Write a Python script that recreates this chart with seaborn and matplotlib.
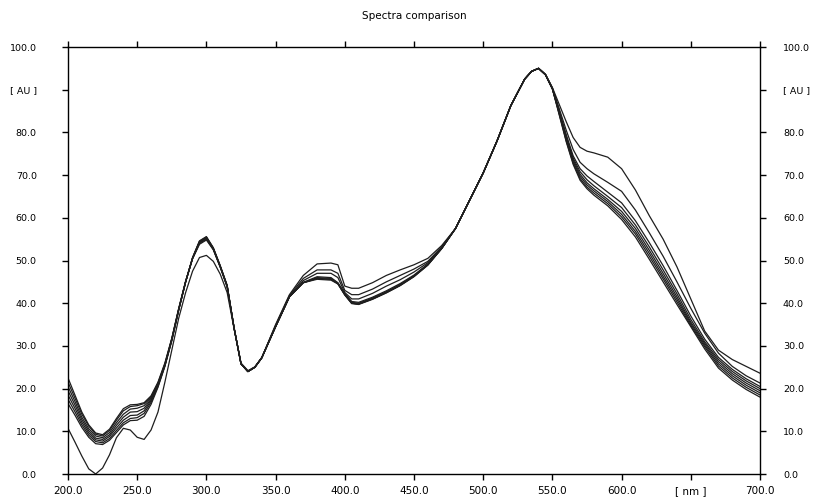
import matplotlib
matplotlib.use("Agg")
import matplotlib.pyplot as plt
import seaborn as sns
import pandas as pd

# ---------------- data ----------------
wavelength = [200, 205, 210, 215, 220, 225, 230, 235, 240, 245, 250, 255, 260, 265,
              270, 275, 280, 285, 290, 295, 300, 305, 310, 315, 320, 325, 330, 335, 340,
              350, 360, 370, 380, 390, 395, 400, 405, 410, 420, 430, 440, 450, 460, 470,
              480, 490, 500, 510, 520, 530, 535, 540, 545, 550,
              555, 560, 565, 570, 575, 580, 590, 600, 610, 620, 630, 640, 650, 660, 670, 680, 690, 700]

spec1 = [10.7, 7.5, 4.2, 1.2, 0.0, 1.4, 4.5, 8.5, 10.7, 10.3, 8.6, 8.1, 10.3, 14.5,
         21.5, 29.0, 36.5, 42.5, 47.5, 50.7, 51.2, 49.8, 46.8, 42.5, 34.0, 26.0, 24.2, 25.1, 27.3,
         34.5, 41.5, 44.8, 45.8, 45.6, 44.6, 42.0, 40.0, 39.8, 41.0, 42.5, 44.2, 46.3, 49.0, 52.8,
         57.5, 64.0, 70.5, 78.0, 86.3, 92.5, 94.3, 95.0, 93.5, 90.2,
         84.8, 79.0, 74.0, 70.8, 68.9, 67.5, 65.0, 62.4, 58.3, 53.2, 47.8, 42.2, 36.2, 31.0, 26.8, 24.0, 21.8, 20.0]

spec2 = [22.5, 18.5, 14.5, 11.5, 9.6, 9.2, 10.5, 13.0, 15.3, 16.2, 16.3, 16.7, 18.3, 21.5,
         26.0, 31.8, 38.8, 45.2, 50.4, 53.8, 54.8, 52.5, 48.4, 43.8, 34.2, 25.8, 24.0, 25.0, 27.2,
         35.0, 42.0, 46.5, 49.2, 49.4, 49.0, 44.0, 43.5, 43.5, 44.8, 46.5, 47.8, 49.0, 50.5, 53.5,
         57.5, 64.0, 70.5, 78.0, 86.3, 92.5, 94.3, 95.0, 93.6, 90.5,
         86.5, 82.5, 78.8, 76.5, 75.6, 75.2, 74.2, 71.5, 66.5, 60.5, 55.0, 48.5, 41.0, 33.5, 29.0, 26.8, 25.2, 23.6]

spec3 = [21.5, 17.8, 14.0, 11.2, 9.3, 8.9, 10.2, 12.6, 14.8, 15.8, 16.0, 16.5, 18.1, 21.3,
         25.8, 31.7, 38.7, 45.1, 50.5, 54.0, 55.0, 52.6, 48.5, 43.9, 34.2, 25.8, 24.0, 25.0, 27.2,
         34.8, 41.8, 45.8, 47.8, 47.8, 47.0, 43.0, 42.0, 42.0, 43.3, 45.0, 46.5, 48.0, 49.8, 53.2,
         57.5, 64.0, 70.5, 78.0, 86.3, 92.5, 94.3, 95.0, 93.6, 90.4,
         85.5, 80.5, 76.0, 73.0, 71.5, 70.3, 68.3, 66.2, 61.8, 56.5, 51.0, 45.0, 38.8, 33.0, 28.3, 25.2, 23.0, 21.3]

spec4 = [20.5, 17.0, 13.3, 10.6, 8.9, 8.5, 9.7, 12.0, 14.0, 15.2, 15.4, 16.0, 17.8, 21.1,
         25.6, 31.6, 38.6, 45.0, 50.5, 54.2, 55.2, 52.7, 48.6, 44.0, 34.2, 25.8, 24.0, 25.0, 27.2,
         34.6, 41.6, 45.3, 47.0, 47.0, 46.0, 42.5, 41.0, 41.0, 42.3, 44.0, 45.5, 47.3, 49.5, 53.0,
         57.5, 64.0, 70.5, 78.0, 86.3, 92.5, 94.3, 95.0, 93.5, 90.3,
         85.0, 79.5, 74.5, 71.5, 69.8, 68.5, 66.0, 63.5, 59.3, 54.2, 48.8, 43.0, 37.0, 31.6, 27.3, 24.5, 22.3, 20.5]

spec5 = [19.5, 16.2, 12.7, 10.1, 8.4, 8.1, 9.2, 11.4, 13.3, 14.5, 14.6, 15.4, 17.5, 20.9,
         25.5, 31.5, 38.5, 45.0, 50.5, 54.3, 55.3, 52.8, 48.6, 44.0, 34.2, 25.8, 24.0, 25.0, 27.2,
         34.5, 41.5, 44.9, 46.2, 46.0, 44.8, 42.3, 40.4, 40.2, 41.4, 42.9, 44.6, 46.6, 49.2, 52.9,
         57.5, 64.0, 70.5, 78.0, 86.3, 92.5, 94.3, 95.0, 93.5, 90.2,
         84.6, 78.6, 73.6, 70.2, 68.2, 66.8, 64.3, 61.5, 57.5, 52.4, 47.0, 41.5, 35.6, 30.6, 26.3, 23.5, 21.3, 19.5]

spec6 = [18.5, 15.4, 12.1, 9.6, 8.0, 7.7, 8.8, 10.8, 12.6, 13.7, 13.8, 14.8, 17.2, 20.7,
         25.4, 31.4, 38.5, 45.0, 50.6, 54.4, 55.4, 52.8, 48.6, 44.0, 34.2, 25.8, 24.0, 25.0, 27.2,
         34.5, 41.5, 44.8, 46.0, 45.8, 44.7, 42.1, 40.2, 40.0, 41.2, 42.7, 44.4, 46.4, 49.1, 52.8,
         57.5, 64.0, 70.5, 78.0, 86.3, 92.5, 94.3, 95.0, 93.5, 90.2,
         84.4, 78.3, 73.2, 69.7, 67.7, 66.3, 63.8, 60.8, 56.8, 51.7, 46.3, 40.9, 35.2, 30.2, 25.8, 23.0, 20.8, 19.0]

spec7 = [17.5, 14.6, 11.5, 9.1, 7.6, 7.3, 8.3, 10.2, 12.0, 13.0, 13.2, 14.2, 16.8, 20.5,
         25.3, 31.3, 38.4, 45.0, 50.6, 54.5, 55.5, 52.9, 48.7, 44.1, 34.2, 25.8, 24.0, 25.0, 27.2,
         34.5, 41.5, 44.8, 45.8, 45.6, 44.6, 42.0, 40.0, 39.8, 41.0, 42.5, 44.2, 46.3, 49.0, 52.8,
         57.5, 64.0, 70.5, 78.0, 86.3, 92.5, 94.3, 95.0, 93.5, 90.2,
         84.2, 78.0, 72.8, 69.2, 67.2, 65.8, 63.3, 60.2, 56.2, 51.0, 45.7, 40.3, 34.8, 29.8, 25.3, 22.5, 20.3, 18.5]

spec8 = [16.5, 13.8, 10.9, 8.6, 7.1, 6.9, 7.9, 9.7, 11.5, 12.5, 12.6, 13.5, 16.3, 20.3,
         25.2, 31.2, 38.4, 45.0, 50.7, 54.6, 55.6, 53.0, 48.8, 44.2, 34.2, 25.8, 24.0, 25.0, 27.2,
         34.5, 41.5, 44.8, 45.6, 45.4, 44.5, 41.9, 39.9, 39.7, 40.9, 42.4, 44.1, 46.2, 48.9, 52.8,
         57.5, 64.0, 70.5, 78.0, 86.3, 92.5, 94.3, 95.0, 93.5, 90.2,
         84.0, 77.8, 72.5, 68.8, 66.8, 65.3, 62.8, 59.6, 55.5, 50.3, 45.0, 39.7, 34.5, 29.3, 24.8, 22.0, 19.8, 18.0]

spectra = {"S1": spec1, "S2": spec2, "S3": spec3, "S4": spec4,
           "S5": spec5, "S6": spec6, "S7": spec7, "S8": spec8}

x_ticks = [200, 250, 300, 350, 400, 450, 500, 550, 600, 650, 700]
x_labels = ["200.0", "250.0", "300.0", "350.0", "400.0", "450.0", "500.0", "550.0", "600.0", "[ nm ]", "700.0"]
y_ticks = [0, 10, 20, 30, 40, 50, 60, 70, 80, 90, 100]
y_labels = ["0.0", "10.0", "20.0", "30.0", "40.0", "50.0", "60.0", "70.0", "80.0", "[ AU ]", "100.0"]
title = "Spectra comparison"

# ---------------- plot ----------------
sns.set_theme(style="white")
plt.rcParams["font.family"] = ["DejaVu Sans"]

rows = []
for name, vals in spectra.items():
    for w, v in zip(wavelength, vals):
        rows.append((name, w, v))
df = pd.DataFrame(rows, columns=["spectrum", "wavelength", "absorbance"])

fig = plt.figure(figsize=(8.17, 4.97), dpi=100)
ax = fig.add_axes([68 / 817, (497 - 474) / 497, (760 - 68) / 817, (474 - 47) / 497])

sns.lineplot(data=df, x="wavelength", y="absorbance", units="spectrum", estimator=None,
             color="#1e1e1e", linewidth=0.9, ax=ax, legend=False)

ax.set_xlim(200, 700)
ax.set_ylim(0, 100)
ax.set_xlabel("")
ax.set_ylabel("")

for s in ax.spines.values():
    s.set_visible(True)
    s.set_color("black")
    s.set_linewidth(1.0)

ax.set_xticks(x_ticks)
ax.set_xticklabels(x_labels, fontsize=7.5)
ax.set_yticks(y_ticks)
ax.set_yticklabels(y_labels, fontsize=6.8)
ax.tick_params(axis="x", direction="out", length=4.5, width=1, color="black",
               labelcolor="black", top=True, bottom=True, labeltop=False, pad=4)
ax.tick_params(axis="y", direction="out", length=4.5, width=1, color="black",
               labelcolor="black", left=True, right=False, pad=18)

ax2 = ax.twinx()
ax2.set_ylim(0, 100)
ax2.set_yticks(y_ticks)
ax2.set_yticklabels(y_labels, fontsize=6.8)
ax2.tick_params(axis="y", direction="out", length=4.5, width=1, color="black",
                labelcolor="black", pad=12)
ax2.grid(False)
for s in ax2.spines.values():
    s.set_visible(False)

fig.text(0.507, 0.968, title, ha="center", va="center", fontsize=7.5, color="black")

fig.savefig("out.png", dpi=100, facecolor="white")
